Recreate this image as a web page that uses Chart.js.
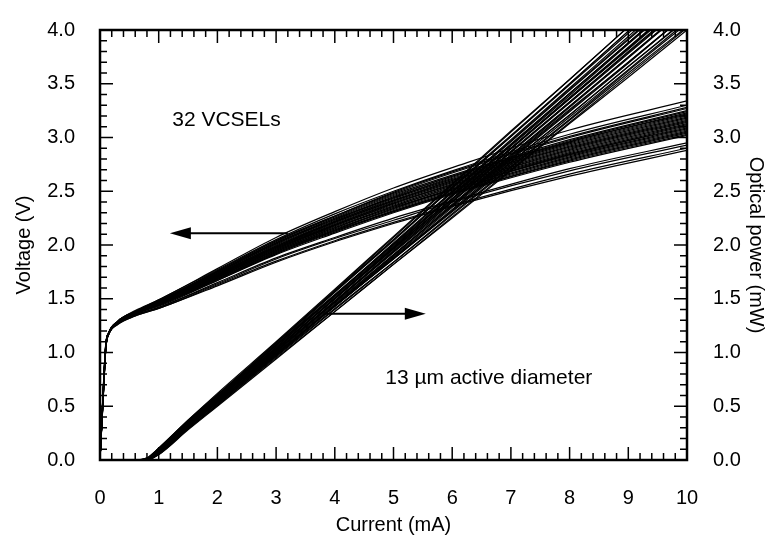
<!DOCTYPE html>
<html>
<head>
<meta charset="utf-8">
<title>VCSEL L-I-V</title>
<script src="https://cdn.jsdelivr.net/npm/chart.js@4.4.1/dist/chart.umd.min.js"></script>
<style>
  html, body { margin: 0; padding: 0; background: #fff; }
  #wrap { width: 770px; height: 541px; }
</style>
</head>
<body>
<div id="wrap"><canvas id="livChart" width="770" height="541"></canvas></div>
<script>
(function () {
  "use strict";

  // current samples (mA) for the voltage sweeps
  var currentV = [0, 0.05, 0.1, 0.15, 0.3, 0.6, 1, 2, 3, 4, 5, 6, 8, 10];

  // voltage (V) of each of the 32 devices at currentV
  var voltageCurves = [
    [0, 0.58, 1.08, 1.19, 1.29, 1.39, 1.49, 1.78, 2.07, 2.31, 2.53, 2.72, 3.07, 3.34],
    [0, 0.56, 1.07, 1.18, 1.29, 1.38, 1.49, 1.77, 2.05, 2.29, 2.50, 2.69, 3.03, 3.30],
    [0, 0.60, 1.09, 1.18, 1.29, 1.38, 1.48, 1.76, 2.04, 2.27, 2.49, 2.68, 3.01, 3.28],
    [0, 0.55, 1.06, 1.18, 1.29, 1.38, 1.48, 1.76, 2.04, 2.27, 2.48, 2.67, 3.00, 3.27],
    [0, 0.57, 1.07, 1.18, 1.29, 1.38, 1.48, 1.75, 2.03, 2.26, 2.47, 2.65, 2.98, 3.25],
    [0, 0.53, 1.05, 1.18, 1.28, 1.38, 1.47, 1.75, 2.02, 2.25, 2.46, 2.64, 2.97, 3.24],
    [0, 0.59, 1.08, 1.18, 1.28, 1.38, 1.47, 1.75, 2.02, 2.24, 2.45, 2.64, 2.96, 3.23],
    [0, 0.54, 1.05, 1.18, 1.28, 1.38, 1.47, 1.74, 2.01, 2.24, 2.44, 2.63, 2.96, 3.22],
    [0, 0.56, 1.06, 1.18, 1.28, 1.37, 1.47, 1.74, 2.01, 2.23, 2.44, 2.62, 2.95, 3.21],
    [0, 0.61, 1.09, 1.18, 1.28, 1.37, 1.47, 1.73, 2.00, 2.22, 2.43, 2.61, 2.94, 3.20],
    [0, 0.52, 1.04, 1.18, 1.28, 1.37, 1.47, 1.73, 1.99, 2.22, 2.42, 2.60, 2.93, 3.19],
    [0, 0.57, 1.07, 1.18, 1.28, 1.37, 1.46, 1.73, 1.99, 2.21, 2.41, 2.60, 2.92, 3.18],
    [0, 0.55, 1.06, 1.18, 1.28, 1.37, 1.46, 1.72, 1.98, 2.21, 2.41, 2.59, 2.91, 3.17],
    [0, 0.58, 1.07, 1.18, 1.28, 1.37, 1.46, 1.72, 1.98, 2.20, 2.40, 2.58, 2.90, 3.16],
    [0, 0.54, 1.05, 1.18, 1.28, 1.37, 1.46, 1.72, 1.98, 2.19, 2.39, 2.57, 2.89, 3.15],
    [0, 0.60, 1.08, 1.18, 1.28, 1.37, 1.46, 1.71, 1.97, 2.19, 2.39, 2.56, 2.88, 3.14],
    [0, 0.56, 1.06, 1.18, 1.28, 1.37, 1.45, 1.71, 1.97, 2.18, 2.38, 2.56, 2.87, 3.13],
    [0, 0.53, 1.04, 1.18, 1.28, 1.37, 1.45, 1.71, 1.96, 2.18, 2.37, 2.55, 2.86, 3.12],
    [0, 0.57, 1.07, 1.18, 1.28, 1.37, 1.45, 1.70, 1.96, 2.17, 2.36, 2.54, 2.85, 3.11],
    [0, 0.55, 1.05, 1.18, 1.28, 1.36, 1.45, 1.70, 1.95, 2.16, 2.36, 2.53, 2.84, 3.10],
    [0, 0.59, 1.08, 1.18, 1.28, 1.36, 1.45, 1.70, 1.95, 2.16, 2.35, 2.52, 2.84, 3.09],
    [0, 0.52, 1.04, 1.18, 1.28, 1.36, 1.45, 1.69, 1.94, 2.15, 2.34, 2.52, 2.83, 3.08],
    [0, 0.56, 1.06, 1.18, 1.27, 1.36, 1.44, 1.69, 1.94, 2.14, 2.34, 2.51, 2.82, 3.07],
    [0, 0.58, 1.07, 1.18, 1.27, 1.36, 1.44, 1.69, 1.93, 2.14, 2.33, 2.50, 2.81, 3.06],
    [0, 0.54, 1.05, 1.18, 1.27, 1.36, 1.44, 1.68, 1.93, 2.13, 2.32, 2.49, 2.80, 3.05],
    [0, 0.57, 1.06, 1.18, 1.27, 1.36, 1.44, 1.68, 1.92, 2.13, 2.31, 2.48, 2.79, 3.04],
    [0, 0.55, 1.06, 1.18, 1.27, 1.36, 1.44, 1.67, 1.92, 2.12, 2.31, 2.48, 2.78, 3.03],
    [0, 0.60, 1.08, 1.18, 1.27, 1.36, 1.43, 1.67, 1.91, 2.11, 2.30, 2.47, 2.77, 3.02],
    [0, 0.53, 1.04, 1.17, 1.27, 1.35, 1.42, 1.65, 1.88, 2.07, 2.25, 2.41, 2.71, 2.95],
    [0, 0.56, 1.05, 1.17, 1.27, 1.35, 1.42, 1.64, 1.87, 2.06, 2.23, 2.40, 2.69, 2.93],
    [0, 0.54, 1.05, 1.17, 1.26, 1.34, 1.41, 1.63, 1.85, 2.04, 2.21, 2.37, 2.66, 2.90],
    [0, 0.57, 1.06, 1.17, 1.26, 1.34, 1.41, 1.62, 1.84, 2.03, 2.20, 2.36, 2.64, 2.88]
  ];

  // current samples (mA) for the light output sweeps
  var currentP = [0, 0.6, 0.8, 1, 1.5, 2, 3, 4, 5, 6, 7, 8, 9, 10];

  // optical power (mW) of each device at currentP
  var powerCurves = [
    [0, 0, 0, 0.09, 0.35, 0.60, 1.09, 1.58, 2.07, 2.56, 3.05, 3.54, 4.03, 4.52],
    [0, 0, 0.01, 0.11, 0.37, 0.62, 1.10, 1.59, 2.08, 2.57, 3.06, 3.54, 4.03, 4.52],
    [0, 0, 0, 0.08, 0.34, 0.58, 1.07, 1.56, 2.04, 2.53, 3.01, 3.50, 3.99, 4.47],
    [0, 0, 0.01, 0.10, 0.36, 0.60, 1.08, 1.57, 2.05, 2.54, 3.02, 3.50, 3.99, 4.47],
    [0, 0, 0, 0.07, 0.33, 0.57, 1.05, 1.53, 2.02, 2.50, 2.98, 3.46, 3.94, 4.43],
    [0, 0, 0.02, 0.11, 0.37, 0.61, 1.09, 1.57, 2.05, 2.53, 3.01, 3.49, 3.97, 4.45],
    [0, 0, 0, 0.09, 0.34, 0.58, 1.06, 1.53, 2.01, 2.49, 2.97, 3.45, 3.92, 4.40],
    [0, 0, 0, 0.06, 0.31, 0.55, 1.03, 1.50, 1.98, 2.46, 2.93, 3.41, 3.88, 4.36],
    [0, 0, 0.01, 0.10, 0.36, 0.59, 1.07, 1.54, 2.01, 2.49, 2.96, 3.44, 3.91, 4.38],
    [0, 0, 0, 0.08, 0.33, 0.56, 1.03, 1.51, 1.98, 2.45, 2.92, 3.39, 3.87, 4.34],
    [0, 0, 0.01, 0.09, 0.34, 0.58, 1.05, 1.52, 1.99, 2.46, 2.93, 3.41, 3.88, 4.35],
    [0, 0, 0, 0.06, 0.30, 0.54, 1.01, 1.48, 1.95, 2.42, 2.89, 3.36, 3.83, 4.30],
    [0, 0, 0.02, 0.11, 0.36, 0.60, 1.07, 1.53, 2.00, 2.47, 2.94, 3.41, 3.88, 4.35],
    [0, 0, 0, 0.08, 0.33, 0.56, 1.03, 1.50, 1.97, 2.43, 2.90, 3.37, 3.84, 4.31],
    [0, 0, 0, 0.09, 0.34, 0.57, 1.03, 1.50, 1.97, 2.43, 2.90, 3.37, 3.83, 4.30],
    [0, 0, 0, 0.07, 0.31, 0.54, 1.01, 1.47, 1.94, 2.40, 2.87, 3.33, 3.80, 4.26],
    [0, 0, 0.01, 0.09, 0.34, 0.58, 1.04, 1.50, 1.97, 2.43, 2.90, 3.36, 3.82, 4.29],
    [0, 0, 0, 0.05, 0.29, 0.52, 0.98, 1.44, 1.90, 2.37, 2.83, 3.29, 3.75, 4.21],
    [0, 0, 0, 0.08, 0.33, 0.56, 1.02, 1.48, 1.94, 2.40, 2.86, 3.32, 3.78, 4.24],
    [0, 0, 0.01, 0.10, 0.35, 0.58, 1.04, 1.50, 1.96, 2.41, 2.87, 3.33, 3.79, 4.25],
    [0, 0, 0, 0.07, 0.31, 0.54, 1.00, 1.45, 1.91, 2.37, 2.82, 3.28, 3.74, 4.20],
    [0, 0, 0.01, 0.09, 0.33, 0.56, 1.02, 1.47, 1.93, 2.38, 2.84, 3.29, 3.75, 4.20],
    [0, 0, 0, 0.06, 0.29, 0.52, 0.97, 1.43, 1.88, 2.33, 2.79, 3.24, 3.69, 4.15],
    [0, 0, 0, 0.08, 0.32, 0.54, 0.99, 1.44, 1.89, 2.35, 2.80, 3.25, 3.70, 4.15],
    [0, 0, 0.01, 0.10, 0.34, 0.56, 1.01, 1.46, 1.91, 2.36, 2.81, 3.26, 3.70, 4.15],
    [0, 0, 0, 0.07, 0.31, 0.53, 0.98, 1.43, 1.87, 2.32, 2.77, 3.21, 3.66, 4.11],
    [0, 0, 0, 0.08, 0.32, 0.54, 0.99, 1.43, 1.88, 2.32, 2.77, 3.21, 3.66, 4.10],
    [0, 0, 0, 0.06, 0.29, 0.51, 0.96, 1.40, 1.84, 2.29, 2.73, 3.17, 3.62, 4.06],
    [0, 0, 0.01, 0.09, 0.33, 0.55, 0.99, 1.43, 1.87, 2.31, 2.75, 3.19, 3.63, 4.08],
    [0, 0, 0, 0.05, 0.28, 0.50, 0.94, 1.38, 1.82, 2.26, 2.70, 3.14, 3.58, 4.02],
    [0, 0, 0, 0.08, 0.31, 0.53, 0.97, 1.41, 1.84, 2.28, 2.72, 3.16, 3.60, 4.03],
    [0, 0, 0, 0.06, 0.29, 0.51, 0.95, 1.38, 1.82, 2.25, 2.69, 3.13, 3.56, 4.00]
  ];

  var fontFamily = "'Liberation Sans', Arial, sans-serif";
  var ink = "#000";

  function toPoints(xs, ys) {
    var pts = [];
    for (var i = 0; i < xs.length; i++) pts.push({ x: xs[i], y: ys[i] });
    return pts;
  }

  var datasets = [];
  voltageCurves.forEach(function (row) {
    datasets.push({
      data: toPoints(currentV, row),
      yAxisID: "y",
      borderColor: ink,
      borderWidth: 1.2,
      pointRadius: 0,
      cubicInterpolationMode: "monotone",
    });
  });
  powerCurves.forEach(function (row) {
    datasets.push({
      data: toPoints(currentP, row),
      yAxisID: "y2",
      borderColor: ink,
      borderWidth: 1.2,
      pointRadius: 0,
      cubicInterpolationMode: "monotone",
    });
  });

  function arrow(ctx, x0, y0, x1, y1, head, half) {
    var dir = x1 > x0 ? 1 : -1;
    ctx.beginPath();
    ctx.moveTo(x0, y0);
    ctx.lineTo(x1 - dir * head * 0.6, y1);
    ctx.stroke();
    ctx.beginPath();
    ctx.moveTo(x1, y1);
    ctx.lineTo(x1 - dir * head, y1 - half);
    ctx.lineTo(x1 - dir * head, y1 + half);
    ctx.closePath();
    ctx.fill();
  }

  // box, inward ticks on all four sides, notes and arrows
  var frame = {
    id: "frame",
    afterDatasetsDraw: function (chart) {
      var ctx = chart.ctx;
      var a = chart.chartArea;
      var sx = chart.scales.x;
      var sy = chart.scales.y;
      var sp = chart.scales.y2;
      ctx.save();
      ctx.strokeStyle = ink;
      ctx.fillStyle = ink;
      ctx.lineWidth = 1.5;
      ctx.beginPath();
      for (var i = 0; i <= 50; i++) {
        var px = sx.getPixelForValue(i / 5);
        var lx = i % 5 === 0 ? 13 : 7;
        ctx.moveTo(px, a.bottom);
        ctx.lineTo(px, a.bottom - lx);
        ctx.moveTo(px, a.top);
        ctx.lineTo(px, a.top + lx);
      }
      for (var j = 0; j <= 40; j++) {
        var py = sy.getPixelForValue(j / 10);
        var ly = j % 5 === 0 ? 13 : 7;
        ctx.moveTo(a.left, py);
        ctx.lineTo(a.left + ly, py);
        ctx.moveTo(a.right, py);
        ctx.lineTo(a.right - ly, py);
      }
      ctx.stroke();
      ctx.lineWidth = 2.5;
      ctx.strokeRect(a.left, a.top, a.right - a.left, a.bottom - a.top);

      ctx.lineWidth = 2;
      arrow(ctx, sx.getPixelForValue(3.2), sy.getPixelForValue(2.11),
        sx.getPixelForValue(1.19), sy.getPixelForValue(2.11), 21, 6);
      arrow(ctx, sx.getPixelForValue(3.84), sp.getPixelForValue(1.36),
        sx.getPixelForValue(5.55), sp.getPixelForValue(1.36), 21, 6);

      ctx.font = "21px " + fontFamily;
      ctx.textAlign = "left";
      ctx.textBaseline = "middle";
      ctx.fillText("32 VCSELs", sx.getPixelForValue(1.23), sy.getPixelForValue(3.16));
      ctx.fillText("13 \u00b5m active diameter", sx.getPixelForValue(4.86), sy.getPixelForValue(0.76));
      ctx.restore();
    },
  };

  var tickFont = { family: fontFamily, size: 20 };

  new Chart(document.getElementById("livChart").getContext("2d"), {
    type: "line",
    data: { datasets: datasets },
    plugins: [frame],
    options: {
      responsive: false,
      animation: false,
      events: [],
      layout: { padding: { top: 23, right: 0, bottom: 0, left: 0 } },
      scales: {
        x: {
          type: "linear",
          min: 0,
          max: 10,
          grid: { display: false },
          border: { display: false },
          ticks: { stepSize: 1, color: ink, font: tickFont, padding: 18, maxRotation: 0 },
          title: {
            display: true,
            text: "Current (mA)",
            color: ink,
            font: tickFont,
            padding: { top: 0, bottom: 4 },
          },
          afterFit: function (scale) { scale.height = 81; },
        },
        y: {
          position: "left",
          min: 0,
          max: 4,
          grid: { display: false },
          border: { display: false },
          ticks: {
            stepSize: 0.5,
            color: ink,
            font: tickFont,
            padding: 17,
            callback: function (v) { return v.toFixed(1); },
          },
          title: {
            display: true,
            text: "Voltage (V)",
            color: ink,
            font: tickFont,
            padding: { top: 12, bottom: 0 },
          },
          afterFit: function (scale) { scale.width = 100; },
        },
        y2: {
          position: "right",
          min: 0,
          max: 4,
          grid: { display: false },
          border: { display: false },
          ticks: {
            stepSize: 0.5,
            color: ink,
            font: tickFont,
            padding: 18,
            callback: function (v) { return v.toFixed(1); },
          },
          title: {
            display: true,
            text: "Optical power (mW)",
            color: ink,
            font: tickFont,
            padding: { top: 2, bottom: 0 },
          },
          afterFit: function (scale) { scale.width = 83; },
        },
      },
      plugins: {
        legend: { display: false },
        tooltip: { enabled: false },
      },
    },
  });
})();
</script>
</body>
</html>
